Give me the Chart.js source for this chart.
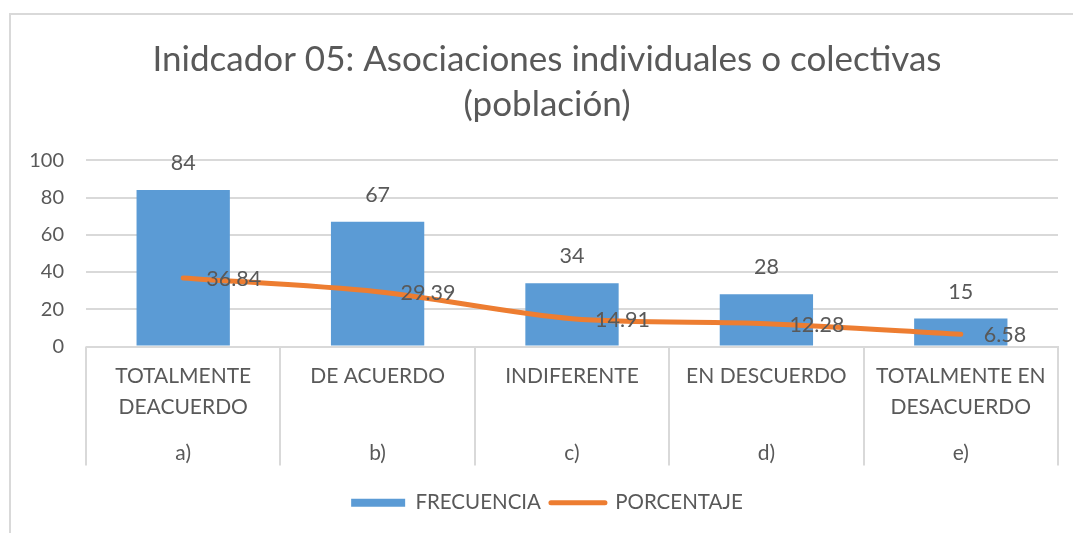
<!DOCTYPE html>
<html>
<head>
<meta charset="utf-8">
<script src="https://cdn.jsdelivr.net/npm/chart.js@4.4.1/dist/chart.umd.min.js"></script>
<style>
html, body { margin: 0; padding: 0; background: #fff; overflow: hidden; width: 1073px; height: 533px; }
#marco { position: absolute; left: 9px; top: 13px; width: 1100px; height: 600px; border: 2px solid #d9d9d9; }
#grafico { position: absolute; left: 0; top: 0; }
</style>
</head>
<body>
<div id="marco"></div>
<canvas id="grafico" width="1100" height="533"></canvas>
<script>
// datos
var categorias = [['TOTALMENTE', 'DEACUERDO'], 'DE ACUERDO', 'INDIFERENTE', 'EN DESCUERDO', ['TOTALMENTE EN', 'DESACUERDO']];
var letras = ['a)', 'b)', 'c)', 'd)', 'e)'];
var frecuencia = [84, 67, 34, 28, 15];
var porcentaje = [36.84, 29.39, 14.91, 12.28, 6.58];
var titulo = ['Inidcador 05: Asociaciones individuales o colectivas', '(población)'];

var gris = '#595959';
var linea = '#d9d9d9';
var fuente = 'Lato';

// etiquetas de datos (valores sobre barras y junto a la linea)
var etiquetas = {
    id: 'etiquetas',
    afterDatasetsDraw: function (chart) {
        var ctx = chart.ctx;
        ctx.save();
        ctx.font = '21.5px ' + fuente;
        ctx.fillStyle = gris;
        ctx.textBaseline = 'middle';
        chart.getDatasetMeta(0).data.forEach(function (barra, i) {
            ctx.textAlign = 'center';
            ctx.fillText(frecuencia[i], barra.x, barra.y - 27);
        });
        chart.getDatasetMeta(1).data.forEach(function (p, i) {
            ctx.textAlign = 'left';
            ctx.fillText(porcentaje[i].toFixed(2), p.x + 23, p.y + 1);
        });
        ctx.restore();
    }
};

// lineas verticales que separan las categorias (estilo Excel)
var separadores = {
    id: 'separadores',
    afterDraw: function (chart) {
        var x = chart.scales.x, x2 = chart.scales.x2;
        var mitad = (x.getPixelForValue(1) - x.getPixelForValue(0)) / 2;
        var ctx = chart.ctx;
        ctx.save();
        ctx.strokeStyle = linea;
        ctx.lineWidth = 2;
        for (var i = 0; i <= categorias.length; i++) {
            var px = Math.round(x.getPixelForValue(i) - mitad);
            ctx.beginPath();
            ctx.moveTo(px, chart.chartArea.bottom);
            ctx.lineTo(px, x2.top + 42);
            ctx.stroke();
        }
        ctx.restore();
    }
};

var ctx = document.getElementById('grafico').getContext('2d');
var grafico = new Chart(ctx, {
    type: 'bar',
    data: {
        labels: categorias,
        datasets: [{
            type: 'bar',
            label: 'FRECUENCIA',
            data: frecuencia,
            backgroundColor: '#5b9bd5',
            categoryPercentage: 0.48,
            barPercentage: 1,
            order: 1
        }, {
            type: 'line',
            label: 'PORCENTAJE',
            data: porcentaje,
            borderColor: '#ed7d31',
            backgroundColor: '#ed7d31',
            borderWidth: 5,
            borderCapStyle: 'round',
            tension: 0.3,
            pointRadius: 0,
            order: 0
        }]
    },
    options: {
        responsive: false,
        animation: false,
        layout: { padding: { left: 10, right: 16, top: 0, bottom: 10 } },
        plugins: {
            tooltip: { enabled: false },
            title: {
                display: true,
                text: titulo,
                color: gris,
                font: { family: fuente, size: 35, weight: 'normal', lineHeight: 1.29 },
                padding: { top: 37, bottom: 33 }
            },
            legend: {
                position: 'bottom',
                labels: {
                    color: gris,
                    font: { family: fuente, size: 20.5 },
                    usePointStyle: true,
                    pointStyleWidth: 54,
                    boxHeight: 8,
                    padding: 10,
                    generateLabels: function (chart) {
                        return [{
                            text: 'FRECUENCIA', fillStyle: '#5b9bd5', strokeStyle: '#5b9bd5',
                            lineWidth: 0, pointStyle: 'rect', datasetIndex: 0, fontColor: gris
                        }, {
                            text: 'PORCENTAJE', fillStyle: '#ed7d31', strokeStyle: '#ed7d31',
                            lineWidth: 5, lineCap: 'round', pointStyle: 'line', datasetIndex: 1, fontColor: gris
                        }];
                    }
                }
            }
        },
        scales: {
            x: {
                position: 'bottom',
                grid: { display: false, drawTicks: false },
                border: { display: true, color: linea, width: 1 },
                ticks: { color: gris, padding: 14, maxRotation: 0, font: { family: fuente, size: 21, lineHeight: 1.48 } },
                afterFit: function (s) { s.height = 77; }
            },
            x2: {
                type: 'category',
                labels: letras,
                position: 'bottom',
                offset: true,
                grid: { display: false, drawTicks: false },
                border: { display: false },
                ticks: { color: gris, padding: 14, font: { family: fuente, size: 21, lineHeight: 1.48 } },
                afterFit: function (s) { s.height = 59; }
            },
            y: {
                min: 0,
                max: 100,
                ticks: { stepSize: 20, color: gris, padding: 22, font: { family: fuente, size: 20 } },
                grid: { color: linea, lineWidth: 2, drawTicks: false },
                border: { display: false },
                afterFit: function (s) { s.width = 76; }
            },
            // eje vacio a la derecha: solo reserva el margen derecho del area
            yDer: {
                type: 'linear',
                position: 'right',
                grid: { display: false, drawTicks: false },
                border: { display: false },
                ticks: { display: false },
                afterFit: function (s) { s.width = 26; }
            }
        }
    },
    plugins: [etiquetas, separadores]
});
</script>
</body>
</html>
